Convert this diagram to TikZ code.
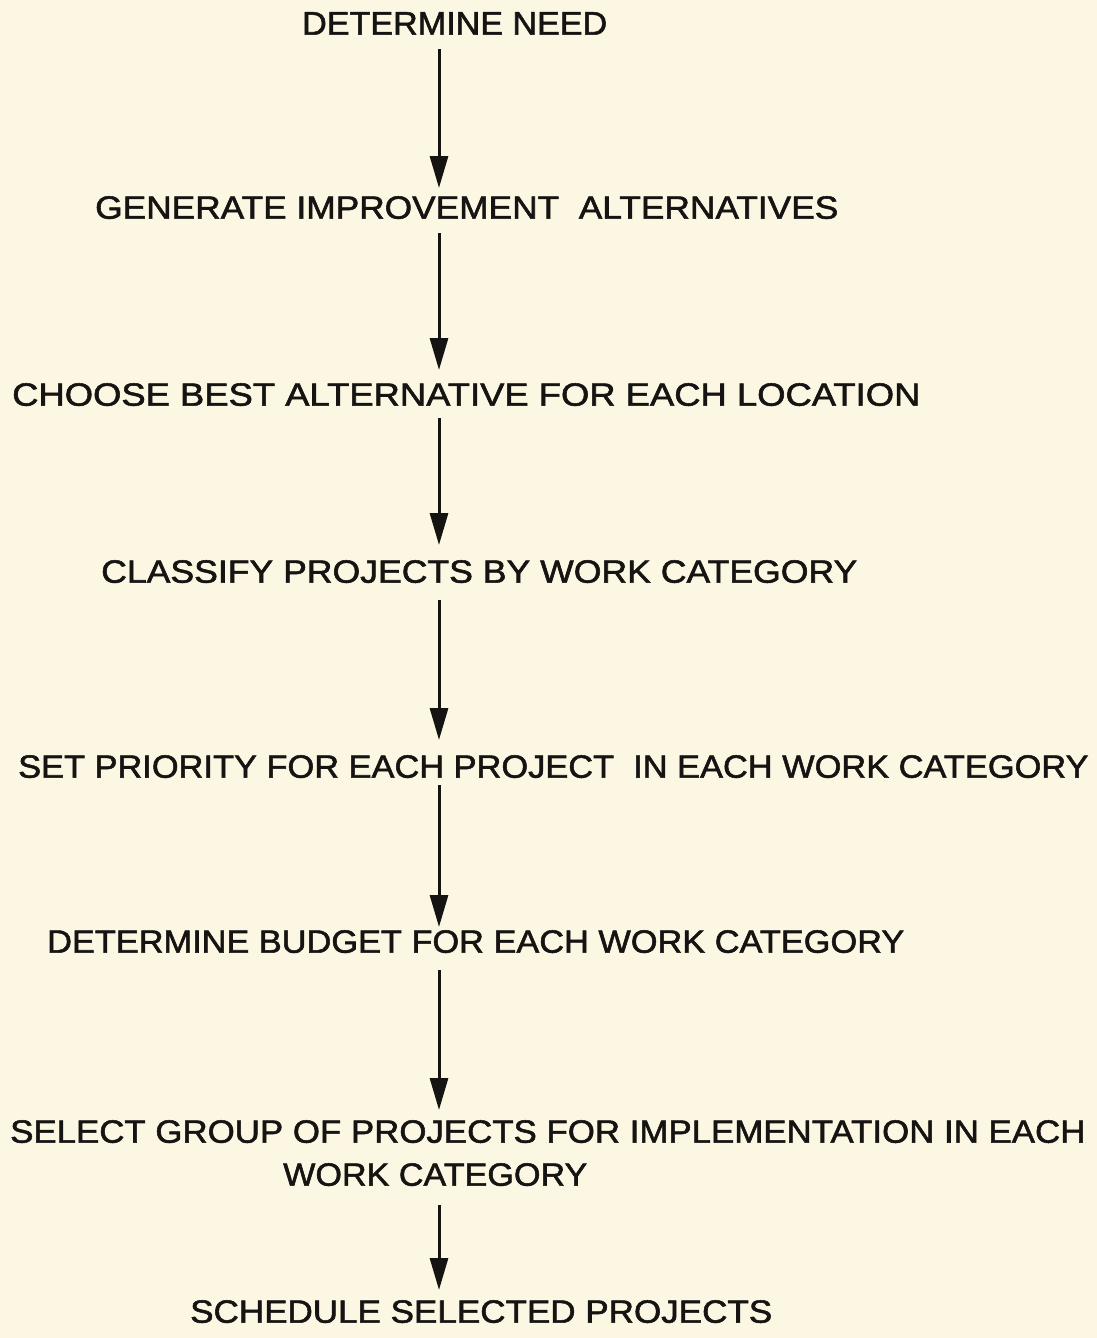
\documentclass[tikz,border=0pt]{standalone}
\usepackage{fontspec}
\setmainfont{Liberation Sans}[RawFeature={embolden=1.6}]
\usetikzlibrary{arrows.meta}
\definecolor{paper}{RGB}{251,247,227}
\definecolor{ink}{RGB}{22,20,18}
% lettering: text fitted to a given width and cap height
\newcommand{\lettering}[2]{\resizebox{#1pt}{22.5pt}{#2}}
\tikzset{
  stepnode/.style={anchor=north west, inner sep=0pt, text=ink},
  flow/.style={draw=ink, line width=3pt,
    -{Triangle[width=18pt,length=32pt]}}
}
\begin{document}
\begin{tikzpicture}[x=1pt,y=-1pt]
  \fill[paper] (0,0) rectangle (1097,1338);
  \useasboundingbox (0,0) rectangle (1097,1338);
  \coordinate (ax) at (439,0);

  \node[stepnode] (need)   at (302,12)   {\lettering{305}{DETERMINE NEED}};
  \node[stepnode] (gen)    at (95,196)   {\lettering{743}{GENERATE IMPROVEMENT\ \ ALTERNATIVES}};
  \node[stepnode] (choose) at (12,383)   {\lettering{908}{CHOOSE BEST ALTERNATIVE FOR EACH LOCATION}};
  \node[stepnode] (class)  at (101,560)  {\lettering{756}{CLASSIFY PROJECTS BY WORK CATEGORY}};
  \node[stepnode] (prio)   at (18,755)   {\lettering{1070}{SET PRIORITY FOR EACH PROJECT\ \ IN EACH WORK CATEGORY}};
  \node[stepnode] (budget) at (47,930)   {\lettering{857}{DETERMINE BUDGET FOR EACH WORK CATEGORY}};
  \node[stepnode] (select) at (10,1120)  {\lettering{1075}{SELECT GROUP OF PROJECTS FOR IMPLEMENTATION IN EACH}};
  \node[stepnode] (selectb) at (283,1163) {\lettering{304}{WORK CATEGORY}};
  \node[stepnode] (sched)  at (190,1300) {\lettering{582}{SCHEDULE SELECTED PROJECTS}};

  \draw[flow, shorten <=14pt, shorten >=8pt]  (need.south -| ax)    -- (gen.north -| ax);
  \draw[flow, shorten <=14pt, shorten >=13pt] (gen.south -| ax)     -- (choose.north -| ax);
  \draw[flow, shorten <=12pt, shorten >=15pt] (choose.south -| ax)  -- (class.north -| ax);
  \draw[flow, shorten <=17pt, shorten >=15pt] (class.south -| ax)   -- (prio.north -| ax);
  \draw[flow, shorten <=7pt,  shorten >=3pt]  (prio.south -| ax)    -- (budget.north -| ax);
  \draw[flow, shorten <=17pt, shorten >=10pt] (budget.south -| ax)  -- (select.north -| ax);
  \draw[flow, shorten <=19pt, shorten >=10pt] (selectb.south -| ax) -- (sched.north -| ax);
\end{tikzpicture}
\end{document}
